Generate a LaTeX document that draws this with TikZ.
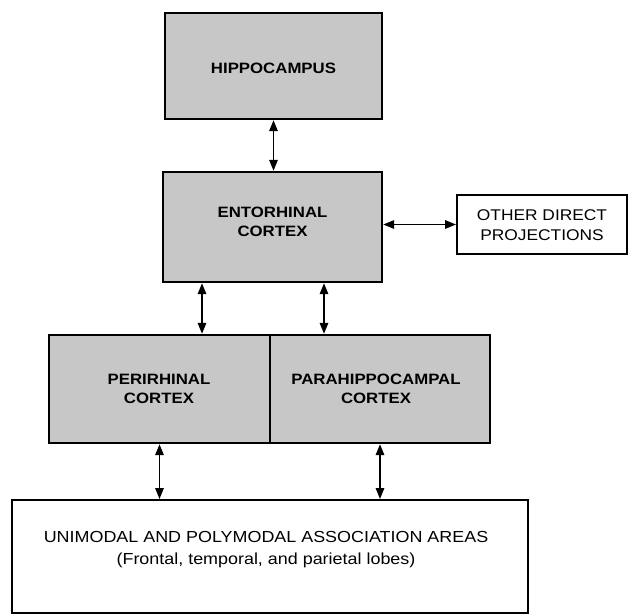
\documentclass[tikz,border=0pt]{standalone}
\usepackage{fontspec}
\setmainfont{Liberation Sans}[FakeStretch=1.12]
\usetikzlibrary{arrows.meta,calc}
\tikzset{
  shadebox/.style={draw=black, line width=2.4pt, fill=black!22, rectangle, inner sep=0pt},
  whitebox/.style={draw=black, line width=2pt, fill=white, rectangle, inner sep=0pt},
  boldtext/.style={align=center, font=\fontsize{15}{19}\selectfont\bfseries, inner sep=0pt},
  plaintext/.style={align=center, font=\fontsize{16}{22}\selectfont, inner sep=0pt},
  biarrow/.style={line width=1.6pt, {Triangle[length=11pt,width=8.5pt]}-{Triangle[length=11pt,width=8.5pt]}},
}
\begin{document}
\begin{tikzpicture}[x=1pt,y=-1pt]
\useasboundingbox (0,0) rectangle (634,614);
\node[shadebox, minimum width=217pt, minimum height=106pt] (hippo) at (273.5,66) {};
\node[boldtext] (hippoT) at (273.5,68) {HIPPOCAMPUS};
\node[shadebox, minimum width=219pt, minimum height=110pt] (ento) at (272.5,227) {};
\node[boldtext] (entoT) at (272.5,222) {ENTORHINAL\\CORTEX};
\node[whitebox, minimum width=170pt, minimum height=59pt] (other) at (542,224.5) {};
\node[plaintext, font=\fontsize{15.5}{20}\selectfont] (otherT) at (542,225) {OTHER DIRECT\\PROJECTIONS};
\node[shadebox, minimum width=221pt, minimum height=108pt] (peri) at (159.5,389) {};
\node[shadebox, minimum width=220pt, minimum height=108pt] (para) at (380,389) {};
\node[boldtext] (periT) at (159,389) {PERIRHINAL\\CORTEX};
\node[boldtext] (paraT) at (376,389) {PARAHIPPOCAMPAL\\CORTEX};
\node[whitebox, minimum width=516pt, minimum height=113pt] (assoc) at (270,556.5) {};
\node[plaintext] (assocT) at (266,550) {UNIMODAL AND POLYMODAL ASSOCIATION AREAS\\(Frontal, temporal, and parietal lobes)};
\coordinate (e1) at ($(ento.south)+(-70.5,0)$);
\coordinate (e2) at ($(ento.south)+(51.5,0)$);
\draw[biarrow] (hippo.south) -- (hippo.south |- ento.north);
\draw[biarrow] (ento.east |- other.west) -- (other.west);
\draw[biarrow] (e1) -- (e1 |- peri.north);
\draw[biarrow] (e2) -- (e2 |- para.north);
\draw[biarrow] (peri.south) -- (peri.south |- assoc.north);
\draw[biarrow] (para.south) -- (para.south |- assoc.north);
\end{tikzpicture}
\end{document}
